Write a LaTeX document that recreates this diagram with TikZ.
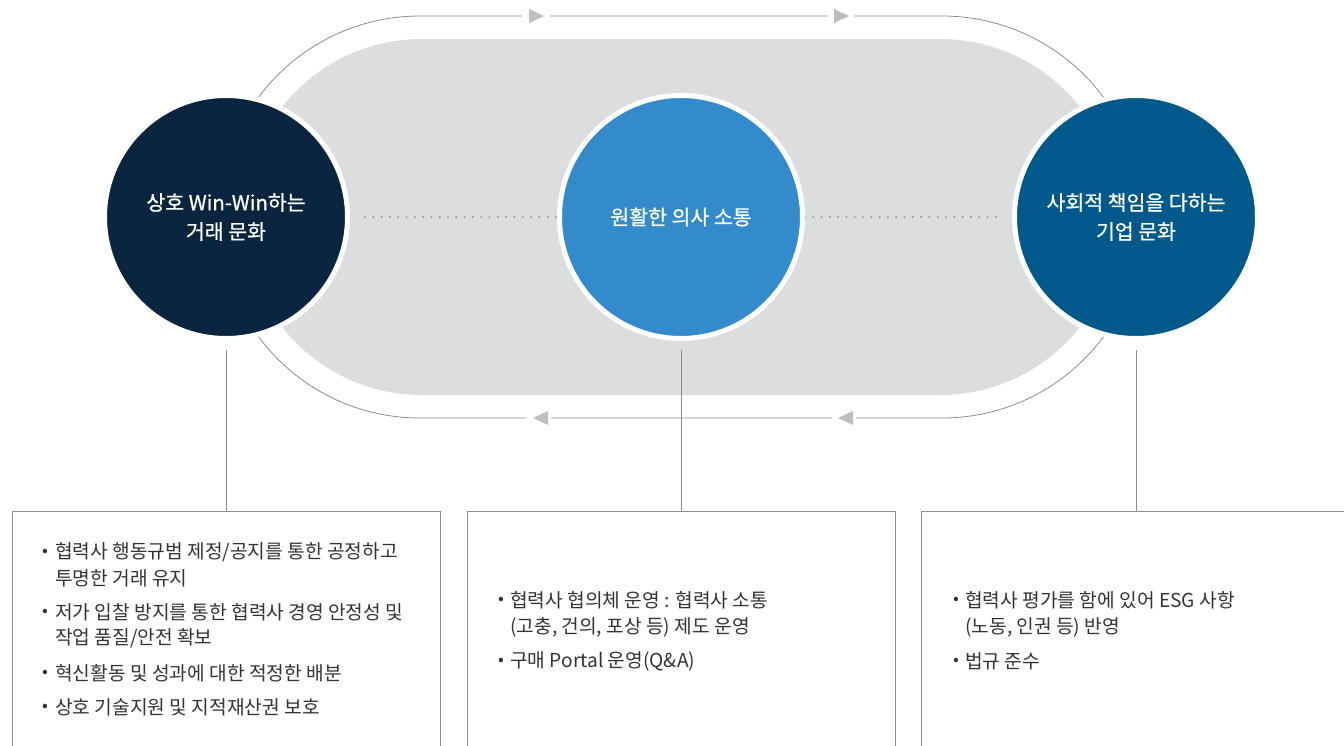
\documentclass[tikz,border=0pt]{standalone}
\usepackage{fontspec}
\setmainfont{Noto Sans CJK KR}
\newfontfamily\circfont[FakeBold=0.8]{Noto Sans CJK KR}
\definecolor{navy}{HTML}{0B2540}
\definecolor{midblue}{HTML}{348BCB}
\definecolor{rightblue}{HTML}{01598B}
\definecolor{pillgray}{HTML}{DCDDDF}
\definecolor{linegray}{HTML}{8C8C8C}
\definecolor{arrowgray}{HTML}{BDBEC1}
\definecolor{boxgray}{HTML}{8F8F8F}
\definecolor{dotgray}{HTML}{A0A0A0}
\definecolor{textgray}{HTML}{333333}
\begin{document}
\begin{tikzpicture}[x=1pt,y=-1pt,
  circ/.style={circle, minimum size=243pt, draw=white, line width=5pt, inner sep=0pt,
    align=center, text=white, font=\circfont\fontsize{20.5}{29}\selectfont},
  boxnode/.style={rectangle, draw=boxgray, line width=1pt, minimum width=428pt,
    minimum height=300pt, anchor=north, inner sep=0pt},
  txt/.style={anchor=west, inner sep=0pt, text=textgray, font=\fontsize{19.2}{23}\selectfont},
  bul/.style={anchor=center, inner sep=0pt, text=textgray, font=\fontsize{17}{20}\selectfont},
  conn/.style={draw=linegray, line width=0.8pt},
  arrowtri/.style={fill=arrowgray, draw=none}]
\useasboundingbox (0,0) rectangle (1344,745);
\clip (0,0) rectangle (1344,745);
% gray pill
\fill[pillgray, rounded corners=178pt] (244,39) rectangle (1118,395);
% outer loop line
\draw[conn, rounded corners=201pt] (219,16) rectangle (1143,418);
% arrow gaps and triangles
\fill[white] (522,13) rectangle (550,19);
\fill[white] (828,13) rectangle (854,19);
\fill[white] (526,415) rectangle (551,421);
\fill[white] (832,415) rectangle (856,421);
\fill[arrowtri] (529,9) -- (544,16) -- (529,23) -- cycle;
\fill[arrowtri] (834,9) -- (849,16) -- (834,23) -- cycle;
\fill[arrowtri] (548,411) -- (533,418) -- (548,425) -- cycle;
\fill[arrowtri] (853,411) -- (838,418) -- (853,425) -- cycle;
% boxes
\node[boxnode] (b1) at (226,511) {};
\node[boxnode] (b2) at (681,511) {};
\node[boxnode, minimum width=430pt] (b3) at (1136,511) {};
% connector end points below circles
\coordinate (v1) at (226,350);
\coordinate (v2) at (681,350);
\coordinate (v3) at (1136,350);
\coordinate (d1) at (365,217);
\coordinate (d2) at (1000,217);
\draw[dotgray, line width=2.4pt, line cap=round, dash pattern=on 0pt off 8.3pt] (d1) -- (d2);
% circles
\node[circ, fill=navy] (c1) at (226,217) {상호 Win-Win하는\\거래 문화};
\node[circ, fill=midblue] (c2) at (681,217) {원활한 의사 소통};
\node[circ, fill=rightblue] (c3) at (1136,217) {사회적 책임을 다하는\\기업 문화};
% vertical connectors
\draw[conn] (v1) -- (b1.north);
\draw[conn] (v2) -- (b2.north);
\draw[conn] (v3) -- (b3.north);
% left box text
\node[bul] (lb1) at (45,553) {•};
\node[txt] (l1) at (55,552) {협력사 행동규범 제정/공지를 통한 공정하고};
\node[txt] (l2) at (55,578) {투명한 거래 유지};
\node[bul] (lb2) at (45,613) {•};
\node[txt] (l3) at (55,612) {저가 입찰 방지를 통한 협력사 경영 안정성 및};
\node[txt] (l4) at (55,638) {작업 품질/안전 확보};
\node[bul] (lb3) at (45,674) {•};
\node[txt] (l5) at (55,673) {혁신활동 및 성과에 대한 적정한 배분};
\node[bul] (lb4) at (45,708) {•};
\node[txt] (l6) at (55,707) {상호 기술지원 및 지적재산권 보호};
% middle box text
\node[bul] (mb1) at (501,601) {•};
\node[txt] (m1) at (510,600) {협력사 협의체 운영 : 협력사 소통};
\node[txt] (m2) at (510,627) {(고충, 건의, 포상 등) 제도 운영};
\node[bul] (mb2) at (501,662) {•};
\node[txt] (m3) at (510,661) {구매 Portal 운영(Q\&A)};
% right box text
\node[bul] (rb1) at (956,601) {•};
\node[txt] (r1) at (965,600) {협력사 평가를 함에 있어 ESG 사항};
\node[txt] (r2) at (965,627) {(노동, 인권 등) 반영};
\node[bul] (rb2) at (956,662) {•};
\node[txt] (r3) at (965,661) {법규 준수};
\end{tikzpicture}
\end{document}
